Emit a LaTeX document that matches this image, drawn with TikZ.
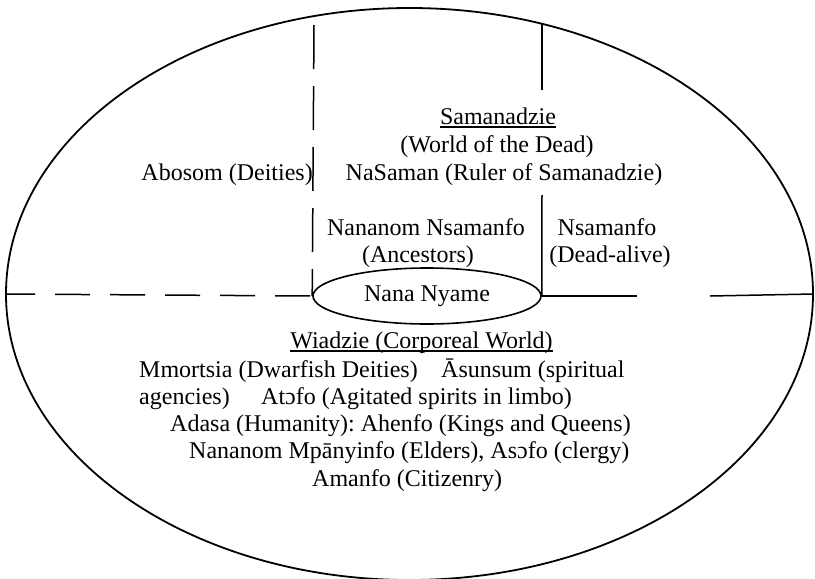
\documentclass[tikz,border=0pt]{standalone}
\usepackage{fontspec}
\setmainfont{Liberation Serif}
\usetikzlibrary{shapes.geometric}
\newcommand\myul[1]{\setbox0\hbox{#1}\rlap{\rule[-3.6pt]{\wd0}{1.3pt}}\box0}
\frenchspacing
\begin{document}
\begin{tikzpicture}[x=1pt,y=-1pt,
  txt/.style={inner sep=0pt,font=\fontsize{24}{27}\selectfont\frenchspacing},
  ln/.style={line width=1.5pt,black},
  dashh/.style={ln,dash pattern=on 35pt off 20pt,dash phase=5pt},
  dashv/.style={ln,dash pattern=on 44pt off 17pt}]
\useasboundingbox (0,0) rectangle (815,579);
% outer world
\node[ellipse,draw,line width=1.8pt,minimum width=807pt,minimum height=572pt,inner sep=0pt] (world) at (409.5,294) {};
% Nana Nyame
\node[ellipse,draw,line width=1.6pt,minimum width=228pt,minimum height=56pt,inner sep=0pt,txt] (nyame) at (427,296) {Nana Nyame};
% coordinates
\coordinate (ltop) at (314,25);
\coordinate (rtop) at (542,24);
\coordinate (rtopend) at (542,90);
\coordinate (rmid) at (542,195);
\coordinate (hgapl) at (637,296);
\coordinate (hgapr) at (710,296);
% lines
\draw[dashv] (ltop) -- (nyame.west);
\draw[ln] (rtop) -- (rtopend);
\draw[ln] (rmid) -- (nyame.east);
\draw[dashh] (world.west) -- (nyame.west);
\draw[ln] (nyame.east) -- (hgapl);
\draw[ln] (hgapr) -- (world.east);
% upper texts
\node[txt,anchor=base] (sam) at (498,124) {\myul{Samanadzie}};
\node[txt,anchor=base] (wod) at (497,152) {(World of the Dead)};
\node[txt,anchor=base] (nasaman) at (504,180) {NaSaman (Ruler of Samanadzie)};
\node[txt,anchor=base east] (abosom) at (313,180) {Abosom (Deities)};
\node[txt,anchor=base] (anc1) at (426,235) {Nananom Nsamanfo};
\node[txt,anchor=base] (anc2) at (418,262) {(Ancestors)};
\node[txt,anchor=base] (nsa1) at (607,235) {Nsamanfo};
\node[txt,anchor=base] (nsa2) at (610,262) {(Dead-alive)};
% lower texts
\node[txt,anchor=base] (wia) at (421.5,348) {\myul{Wiadzie (Corporeal World)}};
\node[txt,anchor=base west] (l2a) at (139,377) {Mmortsia (Dwarfish Deities)};
\node[txt,anchor=base west] (l2b) at (441,377) {Āsunsum (spiritual};
\node[txt,anchor=base west] (l3a) at (139,404) {agencies)};
\node[txt,anchor=base west] (l3b) at (261,404) {Atɔfo (Agitated spirits in limbo)};
\node[txt,anchor=base west] (l4) at (170,431) {Adasa (Humanity): Ahenfo (Kings and Queens)};
\node[txt,anchor=base west] (l5) at (189,458) {Nananom Mpānyinfo (Elders), Asɔfo (clergy)};
\node[txt,anchor=base west] (l6) at (312,486) {Amanfo (Citizenry)};
\end{tikzpicture}
\end{document}
